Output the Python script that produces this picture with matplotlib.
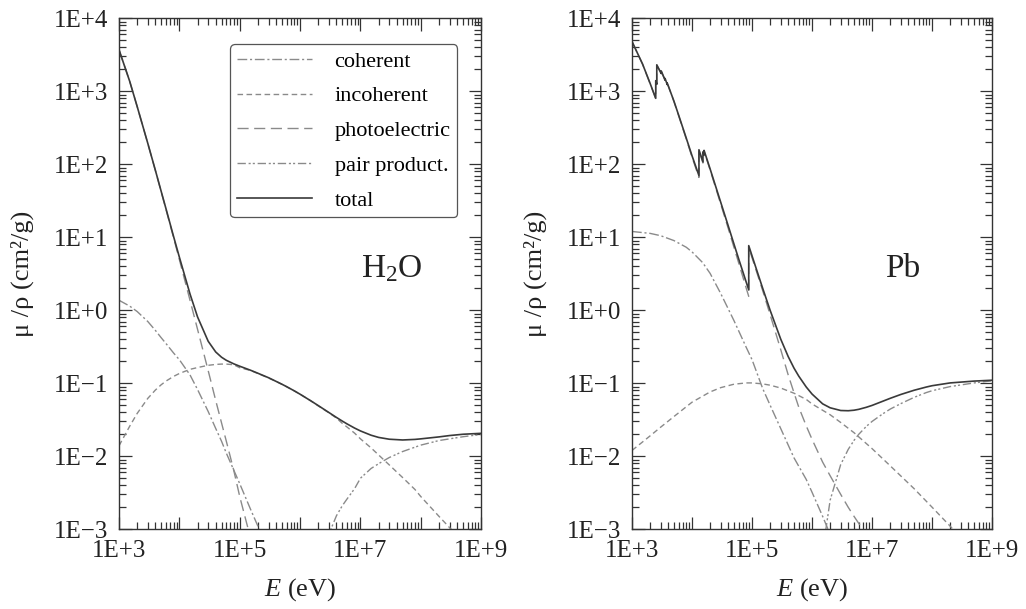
import numpy as np
import matplotlib
matplotlib.use("Agg")
import matplotlib.pyplot as plt
from matplotlib.ticker import LogLocator, FuncFormatter, NullFormatter

plt.rcParams['font.family'] = ['Liberation Serif', 'DejaVu Serif']
plt.rcParams['mathtext.fontset'] = 'custom'
plt.rcParams['mathtext.rm'] = 'Liberation Serif'
plt.rcParams['mathtext.it'] = 'Liberation Serif:italic'

# ---- H2O (energies in eV, mu/rho in cm2/g)
h2o_E = [1e3, 1.5e3, 2e3, 3e3, 4e3, 5e3, 6e3, 8e3, 1e4, 1.5e4, 2e4, 3e4, 4e4, 5e4, 6e4, 8e4,
         1e5, 1.5e5, 2e5, 3e5, 4e5, 5e5, 6e5, 8e5, 1e6, 1.5e6, 2e6, 3e6, 4e6, 5e6, 6e6, 8e6,
         1e7, 1.5e7, 2e7, 3e7, 5e7, 8e7, 1e8, 2e8, 3e8, 5e8, 1e9]
h2o_total = [3700, 1376, 617, 193, 82.8, 42.4, 24.6, 10.3, 5.33, 1.67, 0.81, 0.376, 0.268, 0.227,
             0.206, 0.184, 0.171, 0.151, 0.137, 0.119, 0.106, 0.0969, 0.0896, 0.0787, 0.0707,
             0.0575, 0.0494, 0.0397, 0.0340, 0.0303, 0.0277, 0.0243, 0.0222, 0.0194, 0.0181,
             0.0171, 0.0167, 0.0170, 0.0173, 0.0184, 0.0192, 0.0200, 0.0206]
h2o_coh_E = [1e3, 1.5e3, 2e3, 3e3, 4e3, 5e3, 6e3, 8e3, 1e4, 1.5e4, 2e4, 3e4, 4e4, 5e4, 6e4, 8e4,
             1e5, 1.5e5, 2e5, 2.5e5]
h2o_coh = [1.37, 1.14, 0.96, 0.70, 0.53, 0.42, 0.35, 0.26, 0.21, 0.13, 0.082, 0.041, 0.024, 0.016,
           0.011, 0.0064, 0.0042, 0.0019, 0.0011, 0.00072]
h2o_incoh_E = [1e3, 1.5e3, 2e3, 3e3, 4e3, 5e3, 6e3, 8e3, 1e4, 1.5e4, 2e4, 3e4, 4e4, 5e4, 6e4, 8e4,
               1e5, 1.5e5, 2e5, 3e5, 4e5, 5e5, 6e5, 8e5, 1e6, 1.5e6, 2e6, 3e6, 4e6, 5e6, 6e6, 8e6,
               1e7, 1.5e7, 2e7, 3e7, 5e7, 8e7, 1e8, 2e8, 3e8, 4e8]
h2o_incoh = [0.0139, 0.0257, 0.0386, 0.0621, 0.0806, 0.0954, 0.107, 0.124, 0.136, 0.155, 0.164,
             0.176, 0.181, 0.183, 0.183, 0.179, 0.163, 0.150, 0.136, 0.118, 0.106, 0.0966, 0.0894,
             0.0786, 0.0707, 0.0575, 0.0489, 0.0394, 0.0333, 0.0282, 0.0251, 0.0207, 0.0173,
             0.0130, 0.0104, 0.0076, 0.0051, 0.0035, 0.0028, 0.0015, 0.00105, 0.00082]
h2o_photo_E = [1e3, 1.5e3, 2e3, 3e3, 4e3, 5e3, 6e3, 8e3, 1e4, 1.5e4, 2e4, 3e4, 4e4, 5e4, 6e4, 8e4,
               1e5, 1.5e5, 2e5]
h2o_photo = [3698, 1374, 616, 192, 82.3, 41.9, 24.1, 9.92, 4.94, 1.37, 0.548, 0.149, 0.058, 0.0285,
             0.016, 0.0063, 0.0028, 0.00077, 0.00033]
h2o_pair_E = [2e6, 3e6, 4e6, 5e6, 6e6, 8e6, 1e7, 1.5e7, 2e7, 3e7, 5e7, 1e8, 2e8, 5e8, 1e9]
h2o_pair = [0.00039, 0.00086, 0.00153, 0.0021, 0.0026, 0.0036, 0.0050, 0.0068, 0.0079, 0.0096,
            0.0116, 0.0142, 0.0164, 0.0185, 0.0199]

# ---- Pb
pb_E = [1e3, 1.5e3, 2e3, 2484, 2484, 2586, 2586, 3066, 3066, 3554, 3554, 3851, 3851, 4e3, 5e3, 6e3,
        8e3, 1e4, 13035, 13035, 15200, 15200, 15861, 15861, 2e4, 3e4, 4e4, 5e4, 6e4, 8e4, 88005,
        88005, 1e5, 1.5e5, 2e5, 3e5, 4e5, 5e5, 6e5, 8e5, 1e6, 1.5e6, 2e6, 3e6, 4e6, 5e6, 6e6, 8e6,
        1e7, 1.5e7, 2e7, 3e7, 5e7, 8e7, 1e8, 2e8, 5e8, 1e9]
pb_total = [4800, 2356, 1285, 800, 1397, 1250, 2300, 1750, 1900, 1420, 1500, 1240, 1300, 1200, 730,
            467, 229, 130.6, 70, 158, 108, 148, 135, 155, 86.4, 30.3, 14.4, 8.04, 5.02, 2.42, 1.91,
            7.68, 5.55, 2.01, 0.999, 0.403, 0.232, 0.161, 0.125, 0.0887, 0.0710, 0.0522, 0.0461,
            0.0423, 0.0420, 0.0427, 0.0439, 0.0468, 0.0497, 0.0566, 0.0621, 0.0701, 0.0801, 0.0887,
            0.0925, 0.101, 0.107, 0.110]
pb_photo_E = [1e3, 1.5e3, 2e3, 2484, 2484, 2586, 2586, 3066, 3066, 3554, 3554, 3851, 3851, 4e3, 5e3,
              6e3, 8e3, 1e4, 13035, 13035, 15200, 15200, 15861, 15861, 2e4, 3e4, 4e4, 5e4, 6e4, 8e4,
              88005, 88005, 1e5, 1.5e5, 2e5, 3e5, 4e5, 5e5, 6e5, 8e5, 1e6, 1.5e6, 2e6, 3e6, 4e6,
              5e6, 6e6, 8e6]
pb_photo = [4788, 2345, 1274, 789, 1386, 1240, 2290, 1740, 1890, 1411, 1491, 1232, 1292, 1192, 722,
            460, 223, 125, 66, 154, 104, 144, 131, 151, 83.6, 28.6, 13.3, 7.24, 4.42, 2.0, 1.55,
            7.35, 5.23, 1.87, 0.87, 0.29, 0.13, 0.074, 0.047, 0.026, 0.017, 0.0083, 0.0054, 0.0030,
            0.0020, 0.0015, 0.0012, 0.00085]
pb_coh_E = [1e3, 2e3, 3e3, 5e3, 8e3, 1e4, 1.5e4, 2e4, 3e4, 5e4, 8e4, 1e5, 1.5e5, 2e5, 3e5, 5e5, 8e5,
            1e6, 1.5e6, 2e6]
pb_coh = [12, 11.3, 10.5, 9.0, 7.3, 6.3, 4.5, 3.2, 1.7, 0.72, 0.31, 0.21, 0.085, 0.050, 0.024,
          0.0095, 0.0048, 0.0032, 0.0015, 0.00085]
pb_incoh_E = [1e3, 2e3, 3e3, 5e3, 1e4, 2e4, 3e4, 5e4, 8e4, 1e5, 1.5e5, 2e5, 3e5, 5e5, 8e5, 1e6, 2e6,
              3e6, 5e6, 1e7, 2e7, 5e7, 1e8, 2e8, 3e8]
pb_incoh = [0.012, 0.019, 0.025, 0.035, 0.055, 0.076, 0.087, 0.097, 0.101, 0.101, 0.098, 0.094,
            0.086, 0.073, 0.060, 0.052, 0.037, 0.029, 0.021, 0.0127, 0.0074, 0.0036, 0.0020,
            0.0011, 0.00075]
pb_pair_E = [1.5e6, 2e6, 3e6, 4e6, 5e6, 6e6, 8e6, 1e7, 1.5e7, 2e7, 3e7, 5e7, 8e7, 1e8, 2e8, 5e8, 1e9]
pb_pair = [0.0005, 0.0025, 0.0077, 0.0124, 0.0165, 0.0200, 0.0256, 0.0300, 0.0380, 0.0442, 0.0525,
           0.0640, 0.0745, 0.0790, 0.0900, 0.1010, 0.1080]

labels = ['coherent', 'incoherent', 'photoelectric', 'pair product.', 'total']
gray = '#8a8a8a'
dark = '#3a3a3a'
styles = {
    'coherent': dict(color=gray, lw=1.0, ls=(0, (7, 2, 1.5, 2))),
    'incoherent': dict(color=gray, lw=1.0, ls=(0, (4, 2.5))),
    'photoelectric': dict(color=gray, lw=1.0, ls=(0, (8, 4))),
    'pair product.': dict(color=gray, lw=1.0, ls=(0, (6, 2, 1.5, 1.5, 1.5, 2))),
    'total': dict(color=dark, lw=1.2, ls='-'),
}

def fmt(v, pos, odd_only=False, lo=-3, hi=9):
    e = int(round(np.log10(v)))
    if e < lo or e > hi:
        return ''
    if odd_only and e % 2 == 0:
        return ''
    return '1E' + ('+' if e >= 0 else '\u2212') + str(abs(e))

fig = plt.figure(figsize=(10.26, 6.09), dpi=100)
ax1 = fig.add_axes([0.116, 0.131, 0.353, 0.839])
ax2 = fig.add_axes([0.616, 0.131, 0.351, 0.839])

data = [
    (ax1, [(h2o_coh_E, h2o_coh), (h2o_incoh_E, h2o_incoh), (h2o_photo_E, h2o_photo),
           (h2o_pair_E, h2o_pair), (h2o_E, h2o_total)], 'H$_2$O'),
    (ax2, [(pb_coh_E, pb_coh), (pb_incoh_E, pb_incoh), (pb_photo_E, pb_photo),
           (pb_pair_E, pb_pair), (pb_E, pb_total)], 'Pb'),
]

for ax, curves, name in data:
    for lab, (x, y) in zip(labels, curves):
        ax.loglog(x, y, label=lab, **styles[lab])
    ax.set_xlim(1e3, 1e9)
    ax.set_ylim(1e-3, 1e4)
    ax.xaxis.set_major_locator(LogLocator(base=10, numticks=20))
    ax.yaxis.set_major_locator(LogLocator(base=10, numticks=20))
    ax.xaxis.set_minor_locator(LogLocator(base=10, subs=np.arange(2, 10), numticks=20))
    ax.yaxis.set_minor_locator(LogLocator(base=10, subs=np.arange(2, 10), numticks=20))
    ax.xaxis.set_major_formatter(FuncFormatter(lambda v, p: fmt(v, p, True, 3, 9)))
    ax.yaxis.set_major_formatter(FuncFormatter(lambda v, p: fmt(v, p, False, -3, 4)))
    ax.xaxis.set_minor_formatter(NullFormatter())
    ax.yaxis.set_minor_formatter(NullFormatter())
    ax.tick_params(which='both', direction='in', top=True, right=True, colors='#333333',
                   labelcolor='#222222', labelsize=18, width=0.9)
    ax.tick_params(which='major', length=9, pad=8)
    ax.tick_params(which='minor', length=5)
    for s in ax.spines.values():
        s.set_color('#333333')
        s.set_linewidth(1.0)
    ax.set_xlabel('$E$ (eV)', fontsize=19, color='#222222', labelpad=10)
    ax.set_ylabel('\u03bc /\u03c1 (cm\u00b2/g)', fontsize=19, color='#222222', labelpad=14)
    ax.text(0.753, 0.51, name, transform=ax.transAxes, fontsize=24, ha='center', va='center',
            color='#222222')

leg = ax1.legend(loc='upper right', bbox_to_anchor=(0.934, 0.949), borderaxespad=0, fontsize=16,
                 handlelength=3.4, labelspacing=0.64, fancybox=True, edgecolor='#555555',
                 framealpha=1, borderpad=0.3, handletextpad=1.0)
leg.get_frame().set_linewidth(0.9)

fig.savefig('out.png', dpi=100)
